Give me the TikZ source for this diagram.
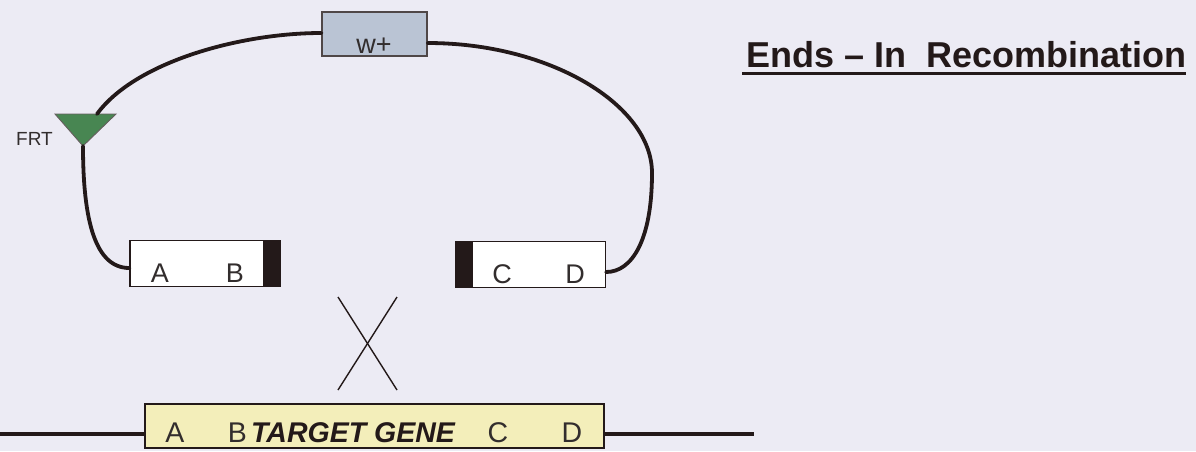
\documentclass[tikz,border=0pt]{standalone}
\usepackage{fontspec}
\setmainfont{Liberation Sans}
\usetikzlibrary{calc}
\definecolor{bg}{RGB}{236,235,244}
\definecolor{ink}{RGB}{35,25,25}
\definecolor{txt}{RGB}{50,45,45}
\definecolor{wfill}{RGB}{186,196,212}
\definecolor{frtgreen}{RGB}{72,134,82}
\definecolor{tgfill}{RGB}{243,238,186}
\begin{document}
\begin{tikzpicture}[x=1pt,y=-1pt,
  backbone/.style={draw=ink, line width=3.8pt, line cap=round},
  segbox/.style={draw=ink, line width=1.3pt, fill=white, minimum width=150pt, minimum height=46pt, inner sep=0pt},
  barbox/.style={fill=ink, draw=ink, line width=0.6pt, minimum width=17pt, minimum height=46pt, inner sep=0pt},
  letter/.style={font=\fontsize{27}{30}\selectfont, text=txt, anchor=base, inner sep=0pt},
  tgletter/.style={font=\fontsize{28.5}{32}\selectfont, text=txt, anchor=base, inner sep=0pt},
  cross/.style={draw=ink, line width=1.4pt}
]
\fill[bg] (0,0) rectangle (1196,451);
\useasboundingbox (0,0) rectangle (1196,451);

% w+ box
\node[draw=ink!80, line width=1.3pt, fill=wfill, minimum width=105pt, minimum height=44pt, inner sep=0pt] (wplus) at (374.5,34) {};
\node[font=\fontsize{27}{30}\selectfont, text=txt, anchor=base, inner sep=0pt] (wtext) at (374,53) {w+};

% FRT triangle
\coordinate (frtL) at (55,114);
\coordinate (frtR) at (116,114);
\coordinate (frttip) at (83,146);
\coordinate (frttop) at (97,114);
\fill[frtgreen, draw=ink!70, line width=0.9pt] (frtL) -- (frtR) -- (frttip) -- cycle;
\node[font=\fontsize{19}{22}\selectfont, text=txt, anchor=base west, inner sep=0pt] (frtlabel) at (16,145) {FRT};

% AB segment
\node[segbox] (ab) at (205,263.5) {};
\node[barbox] (abbar) at (271.5,263.5) {};
\node[letter] (la) at (160,282) {A};
\node[letter] (lb) at (235,282) {B};

% CD segment
\node[segbox] (cd) at (530.5,264.5) {};
\node[barbox] (cdbar) at (464,264.5) {};
\node[letter] (lc) at (502,283) {C};
\node[letter] (ld) at (575,283) {D};

% backbone curves
\draw[backbone] ($(wplus.west)+(0,-1)$) .. controls (240,33) and (135,62) .. (frttop);
\draw[backbone] (frttip) .. controls (83,220) and (95,268) .. ($(ab.west)+(0,4.5)$);
\draw[backbone] ($(wplus.east)+(0,9)$) .. controls (550,43) and (652,105) .. (652,173)
  .. controls (652,240) and (632,272) .. ($(cd.east)+(0,7.5)$);

% crossover
\coordinate (x1) at (338,297);
\coordinate (x2) at (397,390);
\coordinate (x3) at (397,297);
\coordinate (x4) at (338,390);
\draw[cross] (x1) -- (x2);
\draw[cross] (x3) -- (x4);

% target gene
\node[draw=ink, line width=1.3pt, fill=tgfill, minimum width=459pt, minimum height=44pt, inner sep=0pt] (tg) at (374.5,426) {};
\coordinate (lend) at (0,434);
\coordinate (rend) at (754,434);
\draw[backbone, line cap=butt] (lend) -- (lend -| tg.west);
\draw[backbone, line cap=butt] (rend -| tg.east) -- (rend);
\node[tgletter] (ta) at (175,442) {A};
\node[tgletter] (tb) at (237.5,442) {B};
\node[tgletter, font=\fontsize{28.5}{32}\selectfont\bfseries\itshape, text=ink] (tgname) at (353,442) {TARGET GENE};
\node[tgletter] (tc) at (498,442) {C};
\node[tgletter] (td) at (572,442) {D};

% title
\node[font=\fontsize{36}{40}\selectfont\bfseries, text=ink, anchor=base west, inner sep=0pt] (title) at (746,67) {Ends -- In\ \ Recombination};
\draw[draw=ink, line width=2.6pt] (742,73.5) -- (1186,73.5);
\end{tikzpicture}
\end{document}
